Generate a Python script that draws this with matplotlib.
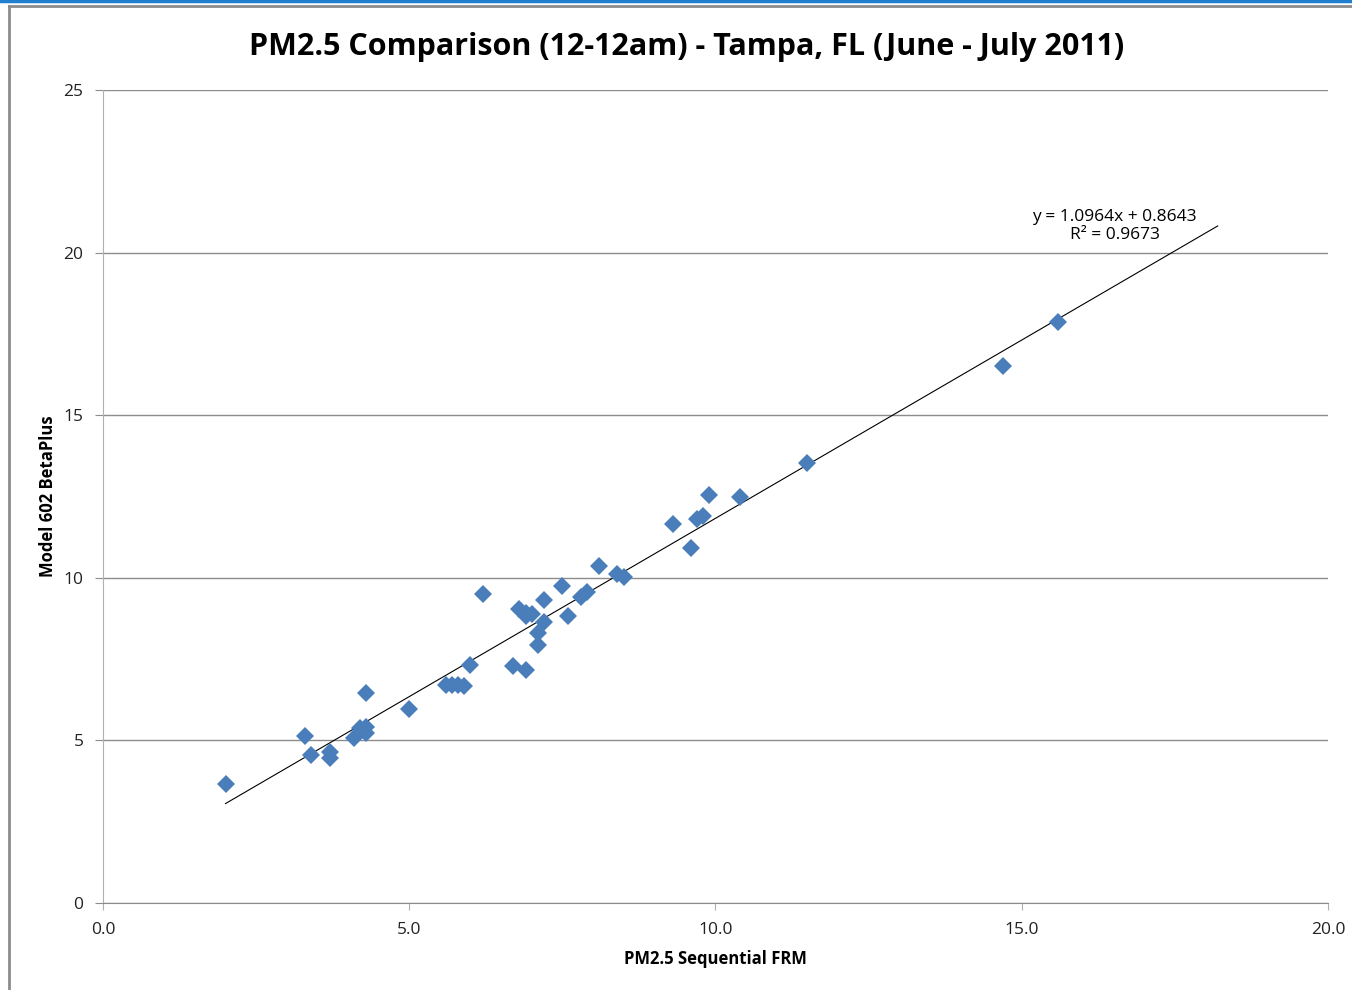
import numpy as np
import matplotlib.pyplot as plt
from matplotlib.lines import Line2D

# PM2.5 readings
frm = [2.0, 3.3, 3.4, 3.7, 3.7, 4.1, 4.2, 4.3, 4.3, 4.3,
       5.0, 5.6, 5.7, 5.8, 5.9, 6.0, 6.2, 6.7, 6.8, 6.9,
       6.9, 7.0, 6.9, 7.1, 7.1, 7.2, 7.2, 7.5, 7.6, 7.8,
       7.9, 8.1, 8.4, 8.5, 9.3, 9.6, 9.7, 9.8, 9.9, 10.4,
       11.5, 14.7, 15.6]
betaplus = [3.65, 5.13, 4.55, 4.64, 4.46, 5.08, 5.37, 5.41, 5.24, 6.47,
            5.98, 6.70, 6.70, 6.69, 6.68, 7.33, 9.50, 7.29, 9.05, 8.92,
            8.83, 8.90, 7.17, 8.30, 7.93, 8.65, 9.33, 9.75, 8.83, 9.42,
            9.57, 10.36, 10.12, 10.02, 11.66, 10.92, 11.80, 11.90, 12.55, 12.48,
            13.53, 16.50, 17.87]

slope, intercept = 1.0964, 0.8643
fit_x = [2.0, 18.2]

fig = plt.figure(figsize=(13.52, 9.9), dpi=100)
ax = fig.add_axes([0.0762, 0.0879, 0.906, 0.8212])

# chart frame like the Excel export
fig.add_artist(Line2D([0, 1], [0.9985, 0.9985], color='#1f7fd0', lw=2.5))
fig.add_artist(Line2D([0.0067, 0.0067], [0, 0.9935], color='#8c8c8c', lw=2))
fig.add_artist(Line2D([0.0067, 1], [0.9935, 0.9935], color='#8c8c8c', lw=2))

ax.plot(frm, betaplus, 'D', color='#4a7ebb', markersize=9, markeredgewidth=0, zorder=3)
fx = np.array(fit_x)
ax.plot(fx, slope * fx + intercept, color='black', lw=0.8, zorder=2)

ax.set_xlim(0, 20)
ax.set_ylim(0, 25)
ax.set_xticks([0, 5, 10, 15, 20])
ax.set_xticklabels(['0.0', '5.0', '10.0', '15.0', '20.0'])
ax.set_yticks([0, 5, 10, 15, 20, 25])
ax.yaxis.grid(True, color='#8c8c8c', lw=1)
ax.set_axisbelow(True)
for s in ['top', 'right']:
    ax.spines[s].set_visible(False)
ax.spines['left'].set_color('#b0b0b0')
ax.spines['bottom'].set_color('#8c8c8c')
ax.tick_params(axis='y', length=6, color='#8c8c8c', labelsize=12.5, pad=8)
ax.tick_params(axis='x', length=5, color='#b0b0b0', labelsize=12.5, pad=9)
for lab in ax.get_xticklabels() + ax.get_yticklabels():
    lab.set_fontfamily('Open Sans')
    lab.set_color('#222222')

ax.set_xlabel('PM2.5 Sequential FRM', fontsize=12, fontweight='bold',
              fontfamily='Open Sans', labelpad=8)
ax.set_ylabel('Model 602 BetaPlus', fontsize=12, fontweight='bold',
              fontfamily='Open Sans', labelpad=5)
fig.text(0.508, 0.953, 'PM2.5 Comparison (12-12am) - Tampa, FL (June - July 2011)',
         ha='center', va='center', fontsize=22, fontweight='bold', fontfamily='Open Sans')

ax.text(16.52, 20.82, 'y = 1.0964x + 0.8643\nR² = 0.9673', ha='center', va='center',
        fontsize=12.5, fontfamily='Open Sans', linespacing=1.15)

fig.savefig('out.png', dpi=100)
